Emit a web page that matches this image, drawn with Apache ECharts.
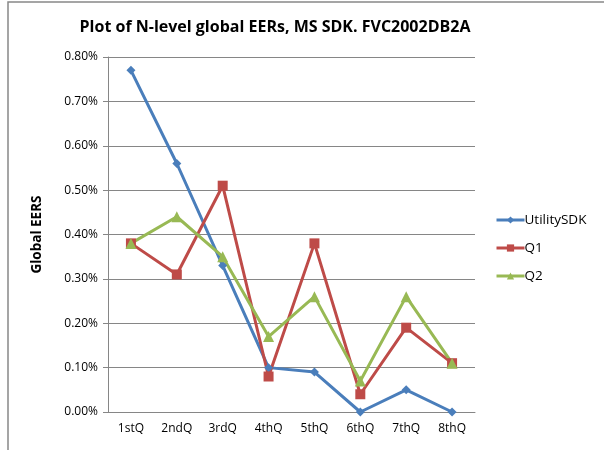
<!DOCTYPE html>
<html>
<head>
<meta charset="utf-8">
<script src="https://cdn.jsdelivr.net/npm/echarts@6/dist/echarts.min.js"></script>
<style>
  html, body { margin: 0; padding: 0; background: #fff; }
  #chart { width: 604px; height: 450px; }
</style>
</head>
<body>
<div id="chart"></div>
<script>
  // values are in percent
  var quarters = ["1stQ", "2ndQ", "3rdQ", "4thQ", "5thQ", "6thQ", "7thQ", "8thQ"];
  var utilitySdk = [0.77, 0.56, 0.33, 0.10, 0.09, 0.00, 0.05, 0.00];
  var q1 = [0.38, 0.31, 0.51, 0.08, 0.38, 0.04, 0.19, 0.11];
  var q2 = [0.38, 0.44, 0.35, 0.17, 0.26, 0.07, 0.26, 0.11];

  var font = "'Open Sans', 'DejaVu Sans', sans-serif";
  var chart = echarts.init(document.getElementById("chart"));

  function line(name, data, color, symbol, size) {
    return {
      name: name,
      type: "line",
      data: data,
      symbol: symbol,
      symbolSize: size,
      lineStyle: { color: color, width: 3 },
      itemStyle: { color: color },
      animation: false
    };
  }

  chart.setOption({
    animation: false,
    graphic: [{
      type: "rect",
      shape: { x: 8, y: 2, width: 700, height: 600 },
      style: { fill: "none", stroke: "#888", lineWidth: 1.5 },
      silent: true
    }],
    title: {
      text: "Plot of N-level global EERs, MS SDK. FVC2002DB2A",
      left: 270,
      textAlign: "center",
      top: 14,
      textStyle: { fontFamily: font, fontSize: 16, fontWeight: "bold", color: "#000" }
    },
    legend: {
      orient: "vertical",
      left: 490,
      top: 208,
      itemGap: 14,
      itemWidth: 28,
      itemHeight: 9,
      lineStyle: { width: 3 },
      textStyle: { fontFamily: font, fontSize: 13.5, color: "#000", padding: [0, 0, 0, -5] },
      data: ["UtilitySDK", "Q1", "Q2"]
    },
    grid: { left: 108, top: 57, right: 129, bottom: 38 },
    xAxis: {
      type: "category",
      data: quarters,
      boundaryGap: true,
      axisLine: { lineStyle: { color: "#868686" } },
      axisTick: { show: false },
      axisLabel: { fontFamily: font, fontSize: 12, color: "#000", margin: 11 }
    },
    yAxis: {
      type: "value",
      min: 0,
      max: 0.8,
      interval: 0.1,
      name: "Global EERS",
      nameLocation: "middle",
      nameGap: 64,
      nameTextStyle: { fontFamily: font, fontSize: 13.5, fontWeight: "bold", color: "#000" },
      axisLine: { show: true, lineStyle: { color: "#868686" } },
      axisTick: { show: true, length: 5, lineStyle: { color: "#868686" } },
      splitLine: { lineStyle: { color: "#868686" } },
      axisLabel: {
        fontFamily: font, fontSize: 12, color: "#000", margin: 10,
        formatter: function (v) { return v.toFixed(2) + "%"; }
      }
    },
    series: [
      line("UtilitySDK", utilitySdk, "#4A7EBB", "diamond", 9),
      line("Q1", q1, "#BE4B48", "rect", 10),
      line("Q2", q2, "#98B954", "triangle", 11)
    ]
  });
</script>
</body>
</html>
